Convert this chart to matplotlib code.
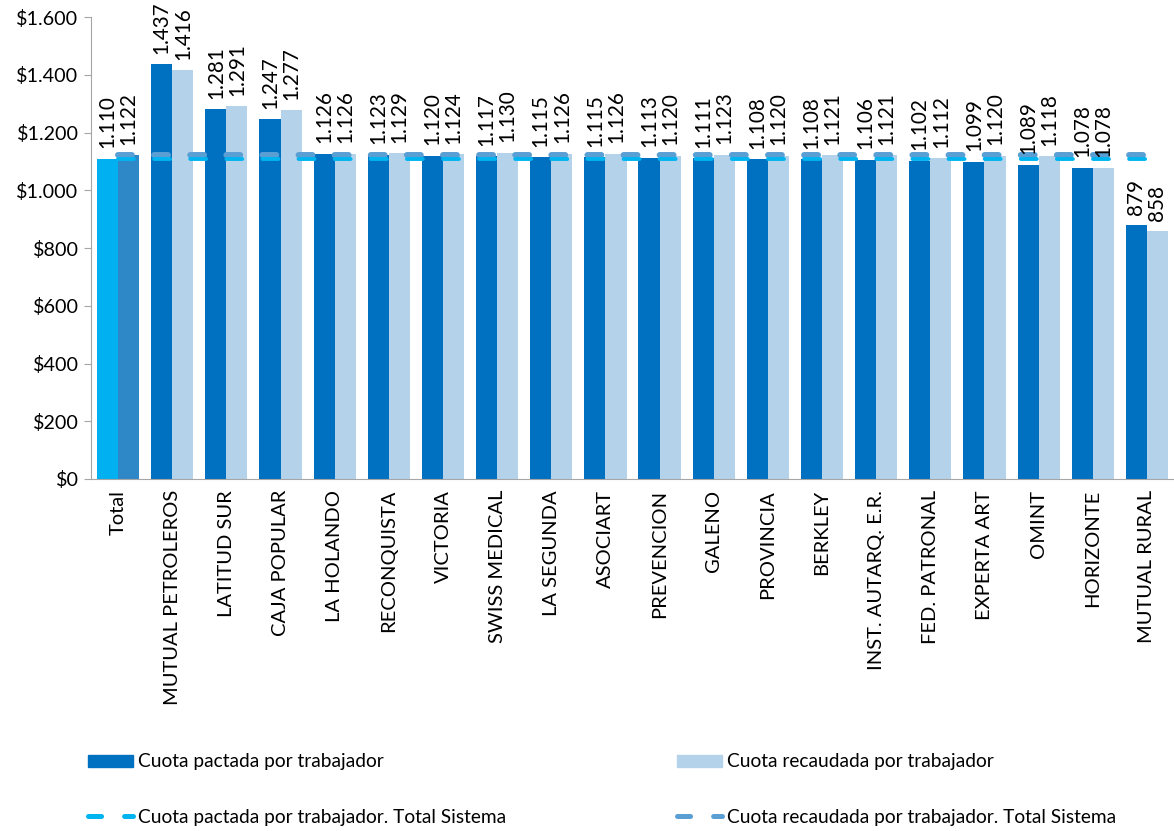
import matplotlib
matplotlib.use("Agg")
import matplotlib.pyplot as plt
from matplotlib.lines import Line2D
from matplotlib.patches import Patch
import numpy as np

categories = ["Total", "MUTUAL PETROLEROS", "LATITUD SUR", "CAJA POPULAR", "LA HOLANDO",
              "RECONQUISTA", "VICTORIA", "SWISS MEDICAL", "LA SEGUNDA", "ASOCIART",
              "PREVENCION", "GALENO", "PROVINCIA", "BERKLEY", "INST. AUTARQ. E.R.",
              "FED. PATRONAL", "EXPERTA ART", "OMINT", "HORIZONTE", "MUTUAL RURAL"]
pactada = [1110, 1437, 1281, 1247, 1126, 1123, 1120, 1117, 1115, 1115,
           1113, 1111, 1108, 1108, 1106, 1102, 1099, 1089, 1078, 879]
recaudada = [1122, 1416, 1291, 1277, 1126, 1129, 1124, 1130, 1126, 1126,
             1120, 1123, 1120, 1121, 1121, 1112, 1120, 1118, 1078, 858]
total_pactada = 1110
total_recaudada = 1122
yticks = [0, 200, 400, 600, 800, 1000, 1200, 1400, 1600]

plt.rcParams['font.family'] = ['Lato', 'DejaVu Sans']
plt.rcParams['lines.scale_dashes'] = False

def fmt(v):
    return f"{v:,}".replace(",", ".")

C_DARK = "#0070C0"
C_LIGHT = "#B4D3EB"
C_TOT1 = "#00B0F0"
C_TOT2 = "#2E88C8"
C_LINE1 = "#00B4F0"
C_LINE2 = "#5A9FD4"

FS_TICK = 14.2
FS_CAT = 14.5
FS_LAB = 14.9
FS_LEG = 13.8

W, H = 1174, 831
fig = plt.figure(figsize=(W / 100, H / 100), dpi=100)
ax = fig.add_axes([0.0775, 0.4236, 0.9225, 0.5559])

x = np.arange(len(categories))
w = 0.39
c1 = [C_TOT1] + [C_DARK] * (len(categories) - 1)
c2 = [C_TOT2] + [C_LIGHT] * (len(categories) - 1)
ax.bar(x - w / 2, pactada, width=w, color=c1, zorder=2)
ax.bar(x + w / 2, recaudada, width=w, color=c2, zorder=2)

for xi, v in zip(x - w / 2, pactada):
    ax.annotate(fmt(v), (xi, v), xytext=(0, 7.5), textcoords='offset points', rotation=90,
                ha='center', va='bottom', fontsize=FS_LAB, color='#000000', zorder=5)
for xi, v in zip(x + w / 2, recaudada):
    ax.annotate(fmt(v), (xi, v), xytext=(0, 7.5), textcoords='offset points', rotation=90,
                ha='center', va='bottom', fontsize=FS_LAB, color='#000000', zorder=5)

ax.plot(x, [total_recaudada] * len(x), color=C_LINE2, lw=4.3, dashes=(10, 16),
        solid_capstyle='round', dash_capstyle='round', zorder=3)
ax.plot(x, [total_pactada] * len(x), color=C_LINE1, lw=2.8, dashes=(11.5, 14.5),
        solid_capstyle='round', dash_capstyle='round', zorder=4)

ax.set_xlim(-0.5, len(categories) - 0.5)
ax.set_ylim(0, 1600)
ax.set_yticks(yticks)
ax.set_yticklabels(["$" + fmt(v) for v in yticks], fontsize=FS_TICK)
ax.set_xticks(x)
ax.set_xticklabels(categories, rotation=90, fontsize=FS_CAT, va='top')
ax.tick_params(axis='x', length=0, pad=8)
ax.tick_params(axis='y', length=5, color='#A6A6A6', pad=4)
for s in ['top', 'right']:
    ax.spines[s].set_visible(False)
for s in ['left', 'bottom']:
    ax.spines[s].set_color('#A6A6A6')

items = [
    (Patch(color=C_DARK), "Cuota pactada por trabajador", 88, 762),
    (Patch(color=C_LIGHT), "Cuota recaudada por trabajador", 677, 762),
    (Line2D([0], [0], color=C_LINE1, lw=3.6, dashes=(9.4, 16.6), dash_capstyle='round'),
     "Cuota pactada por trabajador. Total Sistema", 88, 817),
    (Line2D([0], [0], color=C_LINE2, lw=3.6, dashes=(9.4, 16.6), dash_capstyle='round'),
     "Cuota recaudada por trabajador. Total Sistema", 677, 817),
]
for h, lab, px, py in items:
    leg = fig.legend(handles=[h], labels=[lab], loc='center left',
                     bbox_to_anchor=(px / W, 1 - py / H), frameon=False,
                     fontsize=FS_LEG, handlelength=2.35, handleheight=0.62,
                     handletextpad=0.25, borderpad=0, borderaxespad=0)

fig.savefig("out.png", dpi=100)
